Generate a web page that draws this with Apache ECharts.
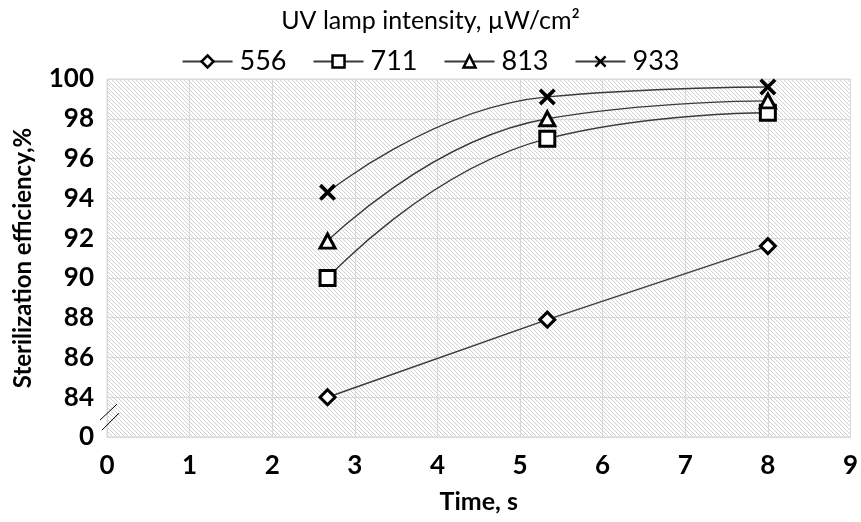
<!DOCTYPE html>
<html>
<head>
<meta charset="utf-8">
<script src="https://cdn.jsdelivr.net/npm/echarts@6/dist/echarts.min.js"></script>
<style>
html,body{margin:0;padding:0;background:#fff;}
#chart{width:861px;height:522px;}
</style>
</head>
<body>
<div id="chart"></div>
<script>
// ---- data ----
const timeValues = [2.67, 5.33, 8];
const seriesNames = ['556', '711', '813', '933'];
const eff556 = [84.0, 87.9, 91.6];
const eff711 = [90.0, 97.0, 98.3];
const eff813 = [91.85, 98.0, 98.9];
const eff933 = [94.3, 99.1, 99.6];
const xTicks = [0, 1, 2, 3, 4, 5, 6, 7, 8, 9];
const yTickLabels = ['0', '84', '86', '88', '90', '92', '94', '96', '98', '100'];
const yBreakValue = 82; // axis position shown as "0" (broken axis)

const FONT = 'Lato';

// hatch pattern
function makeHatch() {
  const c = document.createElement('canvas');
  c.width = 4; c.height = 4;
  const ctx = c.getContext('2d');
  ctx.fillStyle = '#ffffff';
  ctx.fillRect(0, 0, 4, 4);
  const img = ctx.getImageData(0, 0, 4, 4);
  for (let i = 0; i < 4; i++) {
    const idx = (i * 4 + i) * 4;
    img.data[idx] = 208; img.data[idx + 1] = 208; img.data[idx + 2] = 208; img.data[idx + 3] = 255;
  }
  ctx.putImageData(img, 0, 0);
  return c;
}

const crossPath = 'path://M0,3 L3,0 L10,7 L17,0 L20,3 L13,10 L20,17 L17,20 L10,13 L3,20 L0,17 L7,10 Z';

function pairs(vals) { return timeValues.map((t, i) => [t, vals[i]]); }

const symbolDefs = [
  { symbol: 'diamond', size: [15, 15], data: eff556, smooth: false },
  { symbol: 'rect', size: 15, data: eff711, smooth: 0.5 },
  { symbol: 'triangle', size: [15, 14], data: eff813, smooth: 0.5 },
  { symbol: crossPath, size: 17, data: eff933, smooth: 0.5 }
];

const series = symbolDefs.map((d, i) => {
  const isCross = i === 3;
  return {
    name: seriesNames[i],
    type: 'line',
    data: pairs(d.data),
    smooth: d.smooth,
    symbol: d.symbol,
    symbolSize: d.size,
    showAllSymbol: true,
    z: 2 + i,
    lineStyle: { color: '#3a3a3a', width: 1.4 },
    itemStyle: isCross
      ? { color: '#000', borderWidth: 0 }
      : { color: '#fff', borderColor: '#000', borderWidth: 3 },
    emphasis: { disabled: true }
  };
});

const chart = echarts.init(document.getElementById('chart'), null, { renderer: 'canvas' });
chart.setOption({
  animation: false,
  backgroundColor: '#fff',
  title: {
    text: 'UV lamp intensity, µW/cm²',
    left: 'center',
    top: 3,
    textStyle: { fontFamily: FONT, fontSize: 25, fontWeight: 'normal', color: '#000' }
  },
  legend: {
    top: 43,
    left: 'center',
    itemWidth: 50,
    itemHeight: 15,
    itemGap: 26,
    itemStyle: { borderWidth: 2.5 },
    textStyle: { fontFamily: FONT, fontSize: 27, color: '#000', padding: [0, 0, 0, 2] },
    data: seriesNames
  },
  grid: {
    left: 107, right: 9, top: 79, bottom: 85,
    containLabel: false,
    show: true,
    backgroundColor: { image: makeHatch(), repeat: 'repeat' },
    borderColor: '#d9d9d9',
    borderWidth: 1
  },
  xAxis: {
    type: 'value',
    min: xTicks[0], max: xTicks[xTicks.length - 1], interval: 1,
    name: 'Time, s',
    nameLocation: 'middle',
    nameGap: 52,
    nameTextStyle: { fontFamily: FONT, fontSize: 25, fontWeight: 'bold', color: '#000' },
    axisLine: { lineStyle: { color: '#d9d9d9' } },
    axisTick: { show: false },
    splitLine: { show: true, lineStyle: { color: '#d9d9d9', width: 1 } },
    axisLabel: { fontFamily: FONT, fontSize: 26, fontWeight: 'bold', color: '#000', margin: 16 }
  },
  yAxis: {
    type: 'value',
    min: yBreakValue, max: 100, interval: 2,
    name: 'Sterilization efficiency,%',
    nameLocation: 'middle',
    nameGap: 72,
    nameTextStyle: { fontFamily: FONT, fontSize: 24, fontWeight: 'bold', color: '#000' },
    axisLine: { show: false },
    axisTick: { show: false },
    splitLine: { show: true, lineStyle: { color: '#d9d9d9', width: 1 } },
    axisLabel: {
      fontFamily: FONT, fontSize: 26, fontWeight: 'bold', color: '#000', margin: 13,
      formatter: function (v) { const k = Math.round((v - yBreakValue) / 2); return yTickLabels[k] || ''; }
    }
  },
  series: series
});

// axis-break marks
const p = chart.convertToPixel({ gridIndex: 0 }, [0, 83]);
chart.setOption({
  graphic: [
    { type: 'line', shape: { x1: p[0] - 7, y1: p[1] + 3, x2: p[0] + 10, y2: p[1] - 13 }, style: { stroke: '#000', lineWidth: 1 }, z: 100 },
    { type: 'line', shape: { x1: p[0] - 5, y1: p[1] + 13, x2: p[0] + 12, y2: p[1] - 4 }, style: { stroke: '#000', lineWidth: 1 }, z: 100 }
  ]
});
</script>
</body>
</html>
